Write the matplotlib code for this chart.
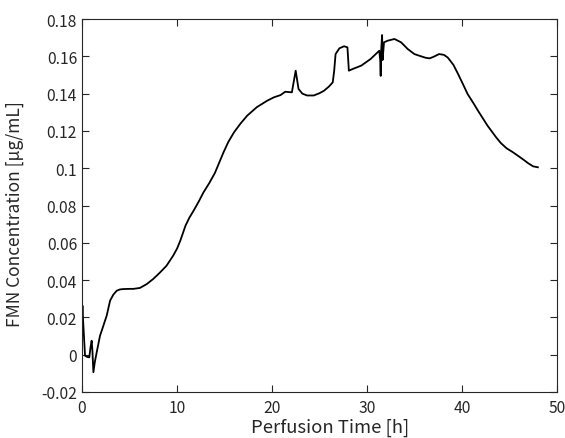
import matplotlib
matplotlib.use('Agg')
import matplotlib.pyplot as plt
from matplotlib.ticker import FuncFormatter

plt.rcParams['font.family'] = ['Noto Sans CJK JP', 'DejaVu Sans']
plt.rcParams['axes.unicode_minus'] = False

# Data
time_h = [0.0, 0.05, 0.1, 0.32, 0.55, 0.77, 0.9, 1.02, 1.1, 1.2, 1.35, 1.55, 1.9, 2.25, 2.6,
          2.96, 3.3, 3.66, 4.0, 4.36, 5.0, 5.42, 6.1, 6.8, 7.5, 8.2, 8.9, 9.6, 10.0, 10.35,
          10.9, 11.3, 11.75, 12.3, 12.8, 13.4, 14.0, 14.9, 15.4, 16.0, 16.7, 17.4, 18.4,
          19.5, 20.2, 20.9, 21.4, 22.1, 22.5, 22.8, 23.2, 23.7, 24.4, 25.0, 25.5, 26.0,
          26.4, 26.55, 26.7, 27.1, 27.6, 27.95, 28.1, 28.5, 29.4, 30.4, 31.3, 31.4, 31.45,
          31.5, 31.6, 31.65, 31.8, 32.2, 32.9, 33.6, 34.3, 35.0, 35.7, 36.2, 36.6, 37.0,
          37.6, 38.1, 38.5, 39.1, 39.6, 40.1, 40.6, 41.2, 41.7, 42.2, 42.7, 43.6, 44.1,
          44.7, 45.3, 45.9, 46.5, 47.0, 47.5, 48.0]
fmn_conc = [0.0191, 0.0263, 0.02, -0.0005, -0.0012, -0.0014, 0.004, 0.0075, 0.002, -0.0094,
            -0.004, 0.0013, 0.0102, 0.0155, 0.0209, 0.0290, 0.0322, 0.0343, 0.0350, 0.0352,
            0.0353, 0.0353, 0.0358, 0.0378, 0.0406, 0.0440, 0.0477, 0.0531, 0.0568, 0.0611,
            0.0692, 0.0734, 0.0772, 0.0822, 0.0871, 0.0920, 0.0975, 0.1085, 0.1140, 0.1192,
            0.1240, 0.1282, 0.1327, 0.1362, 0.1380, 0.1392, 0.1410, 0.1407, 0.1523, 0.1425,
            0.1400, 0.1390, 0.1390, 0.1402, 0.1416, 0.1438, 0.1460, 0.1520, 0.1612, 0.1643,
            0.1654, 0.1648, 0.1523, 0.1532, 0.1550, 0.1586, 0.1630, 0.1580, 0.1495, 0.1630,
            0.1714, 0.1580, 0.1675, 0.1684, 0.1693, 0.1675, 0.1639, 0.1612, 0.1600, 0.1592,
            0.1589, 0.1597, 0.1612, 0.1608, 0.1594, 0.1555, 0.1505, 0.1452, 0.1398, 0.1350,
            0.1308, 0.1268, 0.1228, 0.1166, 0.1135, 0.1107, 0.1088, 0.1067, 0.1045, 0.1026,
            0.1010, 0.1005]

x_ticks = [0, 10, 20, 30, 40, 50]
y_ticks = [-0.02, 0, 0.02, 0.04, 0.06, 0.08, 0.1, 0.12, 0.14, 0.16, 0.18]

fig = plt.figure(figsize=(5.65, 4.39), dpi=100)
ax = fig.add_axes([0.1451, 0.1048, 0.8405, 0.8496])

ax.plot(time_h, fmn_conc, color='black', linewidth=1.3)

ax.set_xlim(0, 50)
ax.set_ylim(-0.02, 0.18)
ax.set_xticks(x_ticks)
ax.set_yticks(y_ticks)
ax.yaxis.set_major_formatter(FuncFormatter(lambda v, p: '%g' % round(v, 4)))

gray = '#262626'
for s in ax.spines.values():
    s.set_color(gray)
    s.set_linewidth(0.8)
ax.tick_params(direction='in', top=True, right=True, length=5, width=0.8,
               colors=gray, labelsize=11.3, labelcolor=gray)
ax.tick_params(axis='x', pad=5)

# label sits on the bottom edge, as in the reference, but kept inside the image
ax.set_xlabel('Perfusion Time [h]', fontsize=13.3, color=gray, va='bottom')
ax.xaxis.set_label_coords(0.523, -0.1185)
ax.set_ylabel('FMN Concentration [μg/mL]', fontsize=12.5, color=gray, va='center')
ax.yaxis.set_label_coords(-0.141, 0.48)

plt.savefig('out.png', dpi=100)
